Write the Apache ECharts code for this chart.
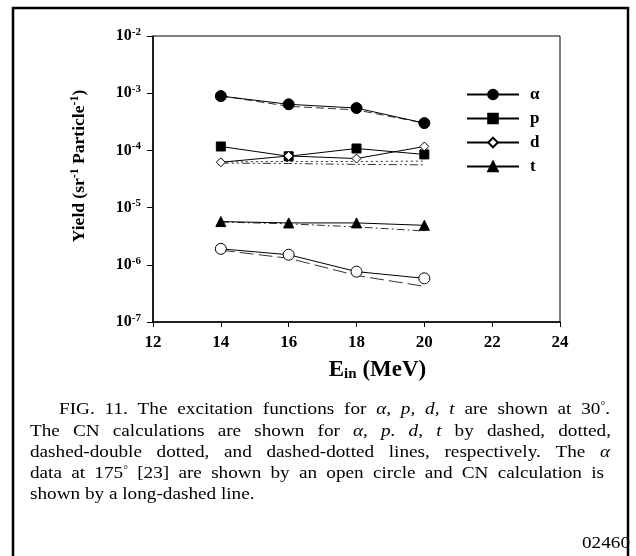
<!DOCTYPE html>
<html><head><meta charset="utf-8">
<script src="https://cdn.jsdelivr.net/npm/echarts@6/dist/echarts.min.js"></script>
<style>html,body{margin:0;padding:0;background:#fff}#c{width:636px;height:556px}</style>
</head><body><div id="c"></div>
<script>
var energies = [14, 16, 18, 20];
var alpha = [8.9e-4, 6.4e-4, 5.5e-4, 3.0e-4];
var alphaCN = [9.0e-4, 5.9e-4, 5.1e-4, 3.0e-4];
var proton = [1.17e-4, 7.9e-5, 1.08e-4, 8.5e-5];
var protonCN = [6.3e-5, 6.4e-5, 6.4e-5, 6.5e-5];
var deuteron = [6.2e-5, 8.0e-5, 7.2e-5, 1.17e-4];
var deuteronCN = [6.0e-5, 5.9e-5, 5.7e-5, 5.6e-5];
var triton = [5.7e-6, 5.4e-6, 5.4e-6, 4.9e-6];
var tritonCN = [5.6e-6, 5.2e-6, 4.6e-6, 3.9e-6];
var alpha175 = [1.9e-6, 1.5e-6, 7.6e-7, 5.8e-7];
var alpha175CN = [1.8e-6, 1.3e-6, 6.5e-7, 4.2e-7];
var xTicks = [12, 14, 16, 18, 20, 22, 24];
var yExponents = [-7, -6, -5, -4, -3, -2];
var captionLines = [
  'FIG. 11. The excitation functions for {i|α,} {i|p,} {i|d,} {i|t} are shown at 30{s|°}.',
  'The CN calculations are shown for {i|α,} {i|p.} {i|d,} {i|t} by dashed, dotted,',
  'dashed-double dotted, and dashed-dotted lines, respectively. The {i|α}',
  'data at 175{s|°}  [23] are shown by an open circle and CN calculation is',
  'shown by a long-dashed line.'
];
var footerLabel = '02460';

var serif = '"Liberation Serif", "DejaVu Serif", serif';
function pairs(vals) { return energies.map(function (e, i) { return [e, vals[i]]; }); }

function dataSeries(name, vals, symbol, size, fill) {
  return {
    name: name, type: 'line', data: pairs(vals), symbol: symbol, symbolSize: size,
    lineStyle: { color: '#000', width: 1 },
    itemStyle: { color: fill, borderColor: '#000', borderWidth: 1 },
    z: 5
  };
}
function cnSeries(name, vals, dash) {
  return {
    name: name, type: 'line', data: pairs(vals), symbol: 'none',
    lineStyle: { color: '#333', width: 1, type: dash }, z: 3
  };
}

// caption layout (justified, horizontally stretched like the scan)
var capFont = 16, capScale = 1.2;
var ctx = document.createElement('canvas').getContext('2d');
function measureWord(w) {
  var re = /\{(\w)\|([^}]*)\}/g, m, last = 0, width = 0;
  function plain(s) { ctx.font = capFont + 'px ' + serif; width += ctx.measureText(s).width; }
  while ((m = re.exec(w))) {
    if (m.index > last) plain(w.slice(last, m.index));
    if (m[1] === 'i') ctx.font = 'italic ' + capFont + 'px ' + serif;
    else ctx.font = '10px ' + serif;
    width += ctx.measureText(m[2]).width;
    last = re.lastIndex;
  }
  if (last < w.length) plain(w.slice(last));
  return width;
}
var capSpecs = [
  { left: 59, right: 610, y: 410, justify: true },
  { left: 30, right: 611, y: 431.5, justify: true },
  { left: 30, right: 610, y: 453, justify: true },
  { left: 30, right: 604, y: 474, justify: true },
  { left: 30, right: 0, y: 495, justify: false }
];
var captionGraphics = captionLines.map(function (line, li) {
  var spec = capSpecs[li];
  var words = line.split(/ +/);
  var widths = words.map(measureWord);
  var total = widths.reduce(function (a, b) { return a + b; }, 0);
  ctx.font = capFont + 'px ' + serif;
  var space = ctx.measureText(' ').width;
  if (spec.justify) space = ((spec.right - spec.left) / capScale - total) / (words.length - 1);
  var x = 0;
  var children = words.map(function (w, i) {
    var el = { type: 'text', x: x, y: 0,
      style: { text: w, fontFamily: serif, fontSize: capFont, fill: '#000', verticalAlign: 'middle',
        rich: { i: { fontFamily: serif, fontStyle: 'italic', fontSize: capFont, fill: '#000' },
                s: { fontFamily: serif, fontSize: 10, fill: '#000', verticalAlign: 'top', padding: [0, 0, 8, 0] } } } };
    x += widths[i] + space;
    return el;
  });
  return { type: 'group', x: spec.left, y: spec.y, scaleX: capScale, z: 50, children: children };
});

var chart = echarts.init(document.getElementById('c'));
chart.setOption({
  animation: false,
  backgroundColor: '#fff',
  grid: { left: 153, right: 76, top: 36, bottom: 234, show: true, borderColor: '#000', borderWidth: 1 },
  legend: {
    data: ['α', 'p', 'd', 't'], orient: 'vertical', left: 461, top: 81,
    itemWidth: 52, itemHeight: 12, itemGap: 7,
    textStyle: { fontFamily: serif, fontWeight: 'bold', fontSize: 17, color: '#000', padding: [0, 0, 0, 6] }
  },
  xAxis: {
    type: 'value', min: 12, max: 24, interval: 2,
    axisLine: { lineStyle: { color: '#000', width: 1.5 } },
    axisTick: { show: true, length: 5, lineStyle: { color: '#000' } },
    splitLine: { show: false },
    axisLabel: { margin: 12, fontFamily: serif, fontWeight: 'bold', fontSize: 17, color: '#000',
      formatter: function (v) { return xTicks.indexOf(v) >= 0 ? String(v) : ''; } },
    name: '{b|E}{sub|in}{b| (MeV)}', nameLocation: 'middle', nameGap: 36,
    nameTextStyle: { padding: [0, 0, 0, 42], rich: {
      b: { fontFamily: serif, fontWeight: 'bold', fontSize: 23, color: '#000' },
      sub: { fontFamily: serif, fontWeight: 'bold', fontSize: 15, color: '#000', verticalAlign: 'bottom', padding: [9, 0, 0, 0] }
    } }
  },
  yAxis: {
    type: 'log', logBase: 10, min: 1e-7, max: 1e-2,
    axisLine: { show: true, lineStyle: { color: '#000', width: 1.5 } },
    axisTick: { show: true, length: 6, lineStyle: { color: '#000' } },
    minorTick: { show: false }, splitLine: { show: false },
    axisLabel: { margin: 12,
      formatter: function (v) {
        var e = Math.round(Math.log10(v));
        return yExponents.indexOf(e) >= 0 ? '{b|10}{sup|' + e + '}' : '';
      },
      rich: {
        b: { fontFamily: serif, fontWeight: 'bold', fontSize: 16, color: '#000' },
        sup: { fontFamily: serif, fontWeight: 'bold', fontSize: 11, color: '#000', verticalAlign: 'top', padding: [0, 0, 8, 0] }
      } },
    name: '{b|Yield (sr}{sup|-1}{b| Particle}{sup|-1}{b|)}', nameLocation: 'middle', nameGap: 64,
    nameTextStyle: { padding: [0, 0, 0, 26], rich: {
      b: { fontFamily: serif, fontWeight: 'bold', fontSize: 17.5, color: '#000' },
      sup: { fontFamily: serif, fontWeight: 'bold', fontSize: 12, color: '#000', padding: [0, 0, 8, 0] }
    } }
  },
  series: [
    cnSeries('α CN', alphaCN, [8, 4]),
    cnSeries('p CN', protonCN, [2, 3]),
    cnSeries('d CN', deuteronCN, [8, 3, 2, 3, 2, 3]),
    cnSeries('t CN', tritonCN, [8, 3, 2, 3]),
    cnSeries('α 175 CN', alpha175CN, [14, 5]),
    dataSeries('α', alpha, 'circle', 11, '#000'),
    dataSeries('p', proton, 'rect', 9, '#000'),
    dataSeries('d', deuteron, 'diamond', 9, '#fff'),
    dataSeries('t', triton, 'triangle', 10, '#000'),
    dataSeries('α 175°', alpha175, 'circle', 11, '#fff')
  ],
  graphic: [
    { type: 'rect', shape: { x: 13, y: 8, width: 615, height: 560 }, style: { fill: 'none', stroke: '#000', lineWidth: 2.5 }, z: 100 },
    { type: 'group', x: 582, y: 544, scaleX: capScale, z: 50, children: [
      { type: 'text', x: 0, y: 0, style: { text: footerLabel, fontFamily: serif, fontSize: capFont, fill: '#000', verticalAlign: 'middle' } }
    ] }
  ].concat(captionGraphics)
});
</script></body></html>
